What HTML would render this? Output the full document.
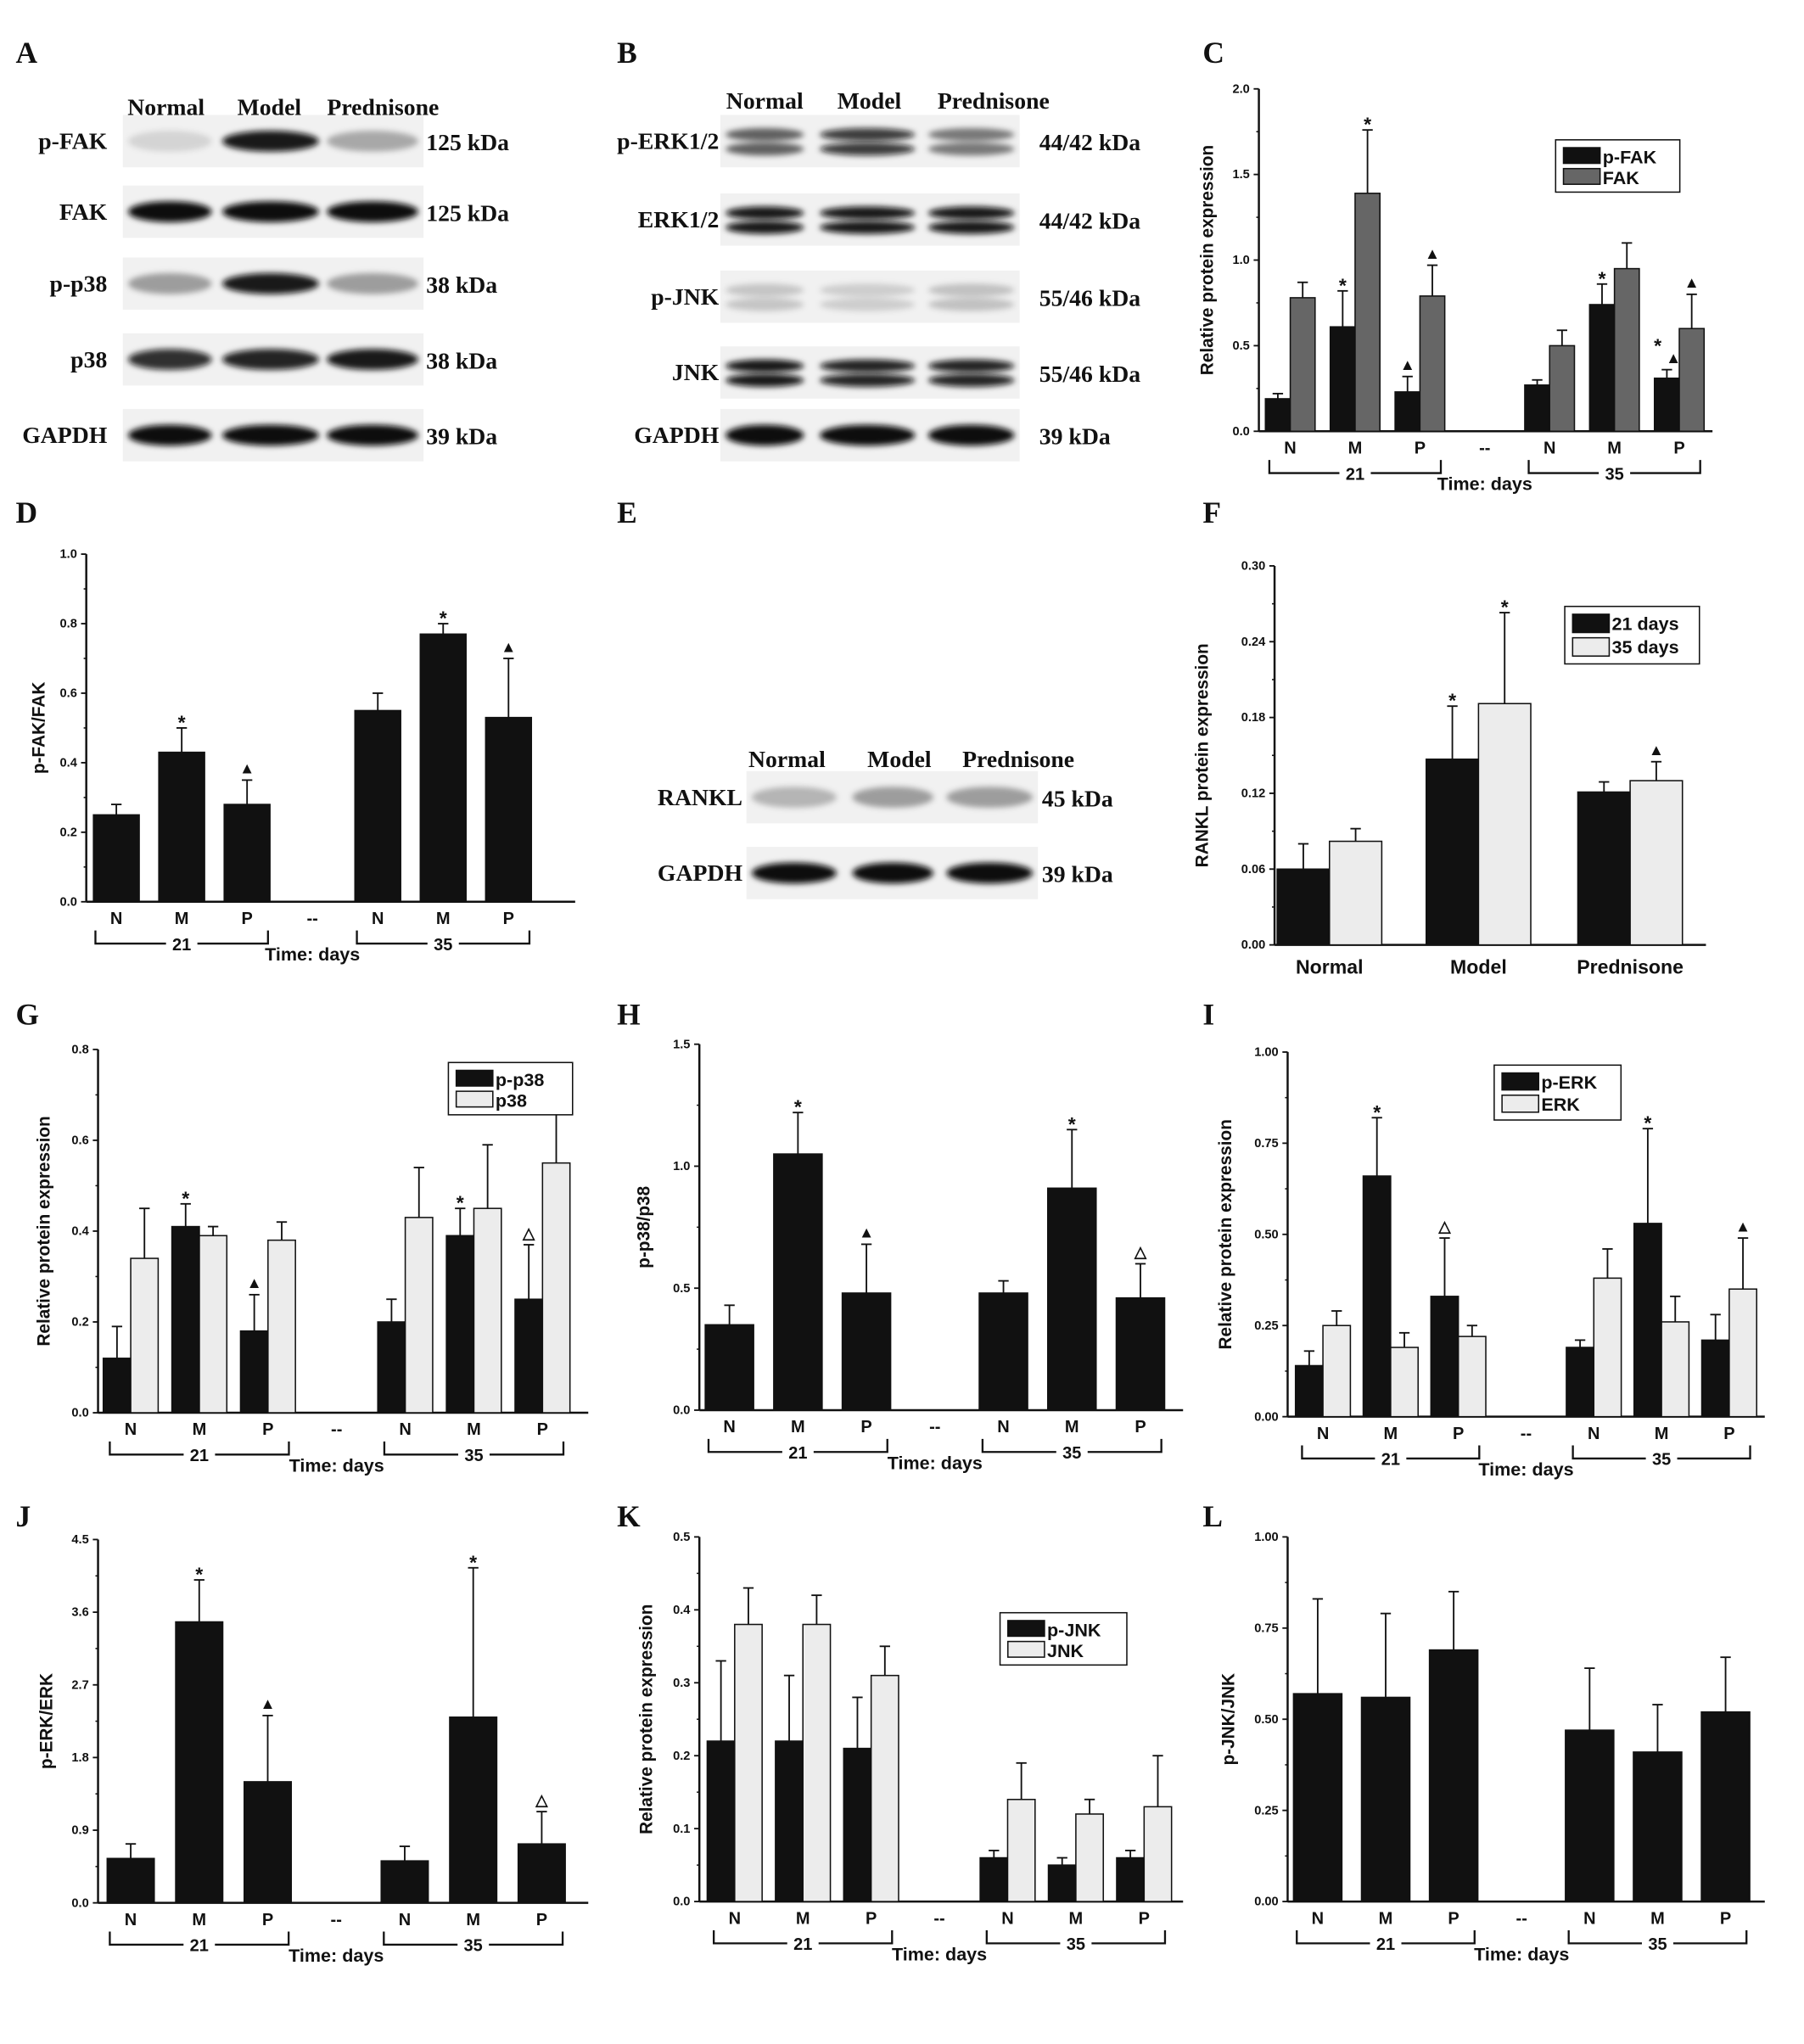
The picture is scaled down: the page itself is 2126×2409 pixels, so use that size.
<!DOCTYPE html>
<html><head><meta charset="utf-8"><style>
html,body{margin:0;padding:0;background:#fff}
svg{display:block}
text{font-family:"Liberation Sans",Arial,sans-serif;font-weight:bold;fill:#111}
.serif{font-family:"Liberation Serif","Times New Roman",serif}
</style></head><body>
<svg id="fig" width="2126" height="2409" viewBox="0 0 1380 1564" preserveAspectRatio="none" xmlns="http://www.w3.org/2000/svg">
<defs><filter id="blur" x="-20%" y="-50%" width="140%" height="200%"><feGaussianBlur stdDeviation="2.2"/></filter></defs>
</svg>
<script>
// ---------- chart data ----------
const timeCats = ['N','M','P','--','N','M','P'];
const fCats = ['Normal','Model','Prednisone'];
const cPFAK = [0.19,0.61,0.23,0.27,0.74,0.31];
const cPFAKErr = [0.03,0.21,0.09,0.03,0.12,0.05];
const cFAK = [0.78,1.39,0.79,0.50,0.95,0.60];
const cFAKErr = [0.09,0.37,0.18,0.09,0.15,0.20];
const dRatio = [0.25,0.43,0.28,0.55,0.77,0.53];
const dRatioErr = [0.03,0.07,0.07,0.05,0.03,0.17];
const f21 = [0.060,0.147,0.121];
const f21Err = [0.020,0.042,0.008];
const f35 = [0.082,0.191,0.130];
const f35Err = [0.010,0.072,0.015];
const gPP38 = [0.12,0.41,0.18,0.20,0.39,0.25];
const gPP38Err = [0.07,0.05,0.08,0.05,0.06,0.12];
const gP38 = [0.34,0.39,0.38,0.43,0.45,0.55];
const gP38Err = [0.11,0.02,0.04,0.11,0.14,0.11];
const hRatio = [0.35,1.05,0.48,0.48,0.91,0.46];
const hRatioErr = [0.08,0.17,0.20,0.05,0.24,0.14];
const iPERK = [0.14,0.66,0.33,0.19,0.53,0.21];
const iPERKErr = [0.04,0.16,0.16,0.02,0.26,0.07];
const iERK = [0.25,0.19,0.22,0.38,0.26,0.35];
const iERKErr = [0.04,0.04,0.03,0.08,0.07,0.14];
const jRatio = [0.55,3.48,1.50,0.52,2.30,0.73];
const jRatioErr = [0.18,0.52,0.82,0.18,1.85,0.40];
const kPJNK = [0.22,0.22,0.21,0.06,0.05,0.06];
const kPJNKErr = [0.11,0.09,0.07,0.01,0.01,0.01];
const kJNK = [0.38,0.38,0.31,0.14,0.12,0.13];
const kJNKErr = [0.05,0.04,0.04,0.05,0.02,0.07];
const lRatio = [0.57,0.56,0.69,0.47,0.41,0.52];
const lRatioErr = [0.26,0.23,0.16,0.17,0.13,0.15];
const cTicks = ['0.0','0.5','1.0','1.5','2.0'];
const dTicks = ['0.0','0.2','0.4','0.6','0.8','1.0'];
const fTicks = ['0.00','0.06','0.12','0.18','0.24','0.30'];
const gTicks = ['0.0','0.2','0.4','0.6','0.8'];
const hTicks = ['0.0','0.5','1.0','1.5'];
const iTicks = ['0.00','0.25','0.50','0.75','1.00'];
const jTicks = ['0.0','0.9','1.8','2.7','3.6','4.5'];
const kTicks = ['0.0','0.1','0.2','0.3','0.4','0.5'];
const lTicks = ['0.00','0.25','0.50','0.75','1.00'];
const cMarkA = ['','*','▲','','*','*▲'];
const cMarkB = ['','*','▲','','','▲'];
const dMark = ['','*','▲','','*','▲'];
const f21Mark = ['','*',''];
const f35Mark = ['','*','▲'];
const gMark = ['','*','▲','','*','△'];
const hMark = ['','*','▲','','*','△'];
const iMarkA = ['','*','△','','*',''];
const iMarkB = ['','','','','','▲'];
const jMark = ['','*','▲','','*','△'];
const none6 = ['','','','','',''];

const NS='http://www.w3.org/2000/svg';
const svg=document.getElementById('fig');
function el(tag,attrs,parent,txt){const e=document.createElementNS(NS,tag);for(const k in attrs)e.setAttribute(k,attrs[k]);if(txt!==undefined)e.textContent=txt;(parent||svg).appendChild(e);return e;}

// panel letters
[['A',12,48],['B',472,48],['C',920,48],['D',12,400],['E',472,400],['F',920,400],['G',12,784],['H',472,784],['I',920,784],['J',12,1168],['K',472,1168],['L',920,1168]].forEach(l=>{
  const t=el('text',{x:l[1],y:l[2],'font-size':23,'class':'serif'},svg,l[0]);
  
  
});

// ---------- western blots ----------
function blot(name,headers,hx,hy,rows,lanes,kx,lx){
  const g=el('g',{});
  
  
  headers.forEach((h,i)=>{const t=el('text',{x:hx[i],y:hy,'font-size':18,'text-anchor':'middle','class':'serif'},g,h);
    });
  rows.forEach(r=>{
    const [label,y,kda,ints,dbl]=r;
    const t=el('text',{x:lx,y:y+6,'font-size':18,'text-anchor':'end','class':'serif'},g,label);
    
    el('rect',{x:lanes[0][0]-4,y:y-20,width:lanes[2][1]-lanes[0][0]+8,height:40,fill:'#f1f1f1'},g);
    lanes.forEach((ln,i)=>{
      const a=ints[i];const w=ln[1]-ln[0];const cx=(ln[0]+ln[1])/2;
      const col=`rgba(10,10,10,${a})`;
      if(dbl){el('ellipse',{cx,cy:y-5,rx:w/2,ry:5,fill:col,filter:'url(#blur)'},g);el('ellipse',{cx,cy:y+6,rx:w/2,ry:5,fill:col,filter:'url(#blur)'},g);}
      else el('ellipse',{cx,cy:y,rx:w/2,ry:8,fill:col,filter:'url(#blur)'},g);
    });
    const k=el('text',{x:kx,y:y+7,'font-size':18,'class':'serif'},g,kda);
    
  });
}
blot('blot-a',['Normal','Model','Prednisone'],[127,206,293],88,
 [['p-FAK',108,'125 kDa',[0.12,0.95,0.3]],['FAK',162,'125 kDa',[1,1,1]],['p-p38',217,'38 kDa',[0.35,0.95,0.35]],['p38',275,'38 kDa',[0.85,0.9,0.95]],['GAPDH',333,'39 kDa',[1,1,1]]],
 [[98,162],[170,244],[250,320]],326,82);
blot('blot-b',['Normal','Model','Prednisone'],[585,665,760],83,
 [['p-ERK1/2',108,'44/42 kDa',[0.6,0.8,0.5],1],['ERK1/2',168,'44/42 kDa',[0.95,0.95,0.95],1],['p-JNK',227,'55/46 kDa',[0.18,0.15,0.2],1],['JNK',285,'55/46 kDa',[0.95,0.9,0.9],1],['GAPDH',333,'39 kDa',[1,1,1]]],
 [[555,615],[627,700],[710,776]],795,550);
blot('blot-e',['Normal','Model','Prednisone'],[602,688,779],587,
 [['RANKL',610,'45 kDa',[0.25,0.35,0.35]],['GAPDH',668,'39 kDa',[1,1,1]]],
 [[575,640],[652,714],[724,790]],797,568);

// ---------- bar charts ----------
function chart(p){
  const g=el('g',{});
  
  
  const n=p.ticks.length;const ymax=parseFloat(p.ticks[n-1]);
  const Y=v=>p.yb-v/ymax*(p.yb-p.yt);
  const X=i=>p.centers?p.centers[i]:p.c0+[0,1,2,4,5,6][i]*p.sp;
  // axes
  el('line',{x1:p.x0,y1:p.yt,x2:p.x0,y2:p.yb,stroke:'#111','stroke-width':1.6},g);
  el('line',{x1:p.x0,y1:p.yb,x2:p.x1,y2:p.yb,stroke:'#111','stroke-width':1.6},g);
  p.ticks.forEach((t,i)=>{const v=parseFloat(t);const y=Y(v);
    el('line',{x1:p.x0-4,y1:y,x2:p.x0,y2:y,stroke:'#111','stroke-width':1.2},g);
    const tt=el('text',{x:p.x0-7,y:y+3,'font-size':9.5,'text-anchor':'end'},g,t);
    
    if(i<n-1){const ym=Y(v+ymax/(n-1)/2);el('line',{x1:p.x0-2,y1:ym,x2:p.x0,y2:ym,stroke:'#111'},g);}
  });
  const cy=(p.yt+p.yb)/2;const yl=el('text',{x:p.ylx,y:cy,'font-size':13.5,'text-anchor':'middle',transform:`rotate(-90 ${p.ylx} ${cy})`},g,p.ylabel);
  
  // series
  const ns=p.series.length;
  p.series.forEach((s,si)=>{
    s.vals.forEach((v,i)=>{
      const bx=X(i)+(ns===1?-p.bw/2:(si===0?-p.bw:0));
      const r=el('rect',{x:bx,y:Y(v),width:p.bw,height:p.yb-Y(v),fill:s.fill,stroke:'#111','stroke-width':1},g);
      
      
      const cx=bx+p.bw/2;const et=Y(v+s.err[i]);
      el('line',{x1:cx,y1:Y(v),x2:cx,y2:et,stroke:'#111','stroke-width':1.2},g);
      el('line',{x1:cx-4,y1:et,x2:cx+4,y2:et,stroke:'#111','stroke-width':1.2},g);
      const m=s.marks[i];
      if(m){const chars=[...m];chars.forEach((c,ci)=>{
        const mt=el('text',{x:cx+(chars.length>1?(ci===0?-7:5):0),y:et-5-(chars.length>1&&ci===0?14:0)+(c==='*'?6:0),'font-size':c==='*'?15:12,'text-anchor':'middle'},g,c);
        });}
    });
  });
  // category labels
  if(p.centers){
    p.cats.forEach((c,i)=>{const t=el('text',{x:X(i),y:p.yb+22,'font-size':15,'text-anchor':'middle'},g,c);
      });
  } else {
    p.cats.forEach((c,i)=>{const t=el('text',{x:p.c0+i*p.sp,y:p.yb+17,'font-size':13,'text-anchor':'middle'},g,c);
      });
    const by=p.yb+32;
    [[0,2,'21'],[4,6,'35']].forEach(b=>{
      const a=p.c0+b[0]*p.sp-16, e=p.c0+b[1]*p.sp+16, m=(a+e)/2;
      el('polyline',{points:`${a},${by-10} ${a},${by} ${m-12},${by}`,fill:'none',stroke:'#111','stroke-width':1.5},g);
      el('polyline',{points:`${m+12},${by} ${e},${by} ${e},${by-10}`,fill:'none',stroke:'#111','stroke-width':1.5},g);
      const t=el('text',{x:m,y:by+5,'font-size':13,'text-anchor':'middle'},g,b[2]);
      
    });
    const tx=p.c0+3*p.sp;const t=el('text',{x:tx,y:p.yb+45,'font-size':14,'text-anchor':'middle'},g,'Time: days');
    
  }
  // legend
  if(p.legend){const [lx,ly,lw,lh]=p.legend;
    const lg=el('g',{},g);
    el('rect',{x:lx,y:ly,width:lw,height:lh,fill:'#fff',stroke:'#111','stroke-width':1},lg);
    p.series.forEach((s,si)=>{const yy=ly+6+si*(lh-8)/2;
      el('rect',{x:lx+6,y:yy,width:28,height:(lh-8)/2-4,fill:s.fill,stroke:'#111'},lg);
      const t=el('text',{x:lx+36,y:yy+12,'font-size':14},lg,s.label);
      });
  }
}
const BK='#111',GR='#666',LT='#ececec';
chart({name:'chart-c',x0:963,x1:1310,yt:68,yb:330,c0:987,sp:49.6,bw:19,ticks:cTicks,ylabel:'Relative protein expression',ylx:928,cats:timeCats,
  series:[{key:'p-fak',label:'p-FAK',vals:cPFAK,err:cPFAKErr,fill:BK,marks:cMarkA},{key:'fak',label:'FAK',vals:cFAK,err:cFAKErr,fill:GR,marks:cMarkB}],legend:[1190,107,95,40]});
chart({name:'chart-d',x0:66,x1:440,yt:424,yb:690,c0:89,sp:50,bw:35,ticks:dTicks,ylabel:'p-FAK/FAK',ylx:34,cats:timeCats,
  series:[{key:'ratio',label:'',vals:dRatio,err:dRatioErr,fill:BK,marks:dMark}]});
chart({name:'chart-f',x0:975,x1:1305,yt:433,yb:723,centers:[1017,1131,1247],bw:40,ticks:fTicks,ylabel:'RANKL protein expression',ylx:924,cats:fCats,
  series:[{key:'21-days',label:'21 days',vals:f21,err:f21Err,fill:BK,marks:f21Mark},{key:'35-days',label:'35 days',vals:f35,err:f35Err,fill:LT,marks:f35Mark}],legend:[1197,464,103,44]});
chart({name:'chart-g',x0:75,x1:450,yt:803,yb:1081,c0:100,sp:52.5,bw:21,ticks:gTicks,ylabel:'Relative protein expression',ylx:38,cats:timeCats,
  series:[{key:'p-p38',label:'p-p38',vals:gPP38,err:gPP38Err,fill:BK,marks:gMark},{key:'p38',label:'p38',vals:gP38,err:gP38Err,fill:LT,marks:none6}],legend:[343,813,95,40]});
chart({name:'chart-h',x0:535,x1:905,yt:799,yb:1079,c0:558,sp:52.4,bw:37,ticks:hTicks,ylabel:'p-p38/p38',ylx:497,cats:timeCats,
  series:[{key:'ratio',label:'',vals:hRatio,err:hRatioErr,fill:BK,marks:hMark}]});
chart({name:'chart-i',x0:985,x1:1350,yt:805,yb:1084,c0:1012,sp:51.8,bw:21,ticks:iTicks,ylabel:'Relative protein expression',ylx:942,cats:timeCats,
  series:[{key:'p-erk',label:'p-ERK',vals:iPERK,err:iPERKErr,fill:BK,marks:iMarkA},{key:'erk',label:'ERK',vals:iERK,err:iERKErr,fill:LT,marks:iMarkB}],legend:[1143,815,97,42]});
chart({name:'chart-j',x0:75,x1:450,yt:1178,yb:1456,c0:100,sp:52.4,bw:36,ticks:jTicks,ylabel:'p-ERK/ERK',ylx:40,cats:timeCats,
  series:[{key:'ratio',label:'',vals:jRatio,err:jRatioErr,fill:BK,marks:jMark}]});
chart({name:'chart-k',x0:535,x1:905,yt:1176,yb:1455,c0:562,sp:52.2,bw:21,ticks:kTicks,ylabel:'Relative protein expression',ylx:499,cats:timeCats,
  series:[{key:'p-jnk',label:'p-JNK',vals:kPJNK,err:kPJNKErr,fill:BK,marks:none6},{key:'jnk',label:'JNK',vals:kJNK,err:kJNKErr,fill:LT,marks:none6}],legend:[765,1234,97,40]});
chart({name:'chart-l',x0:985,x1:1350,yt:1176,yb:1455,c0:1008,sp:52,bw:37,ticks:lTicks,ylabel:'p-JNK/JNK',ylx:944,cats:timeCats,
  series:[{key:'ratio',label:'',vals:lRatio,err:lRatioErr,fill:BK,marks:none6}]});
</script>
</body></html>
